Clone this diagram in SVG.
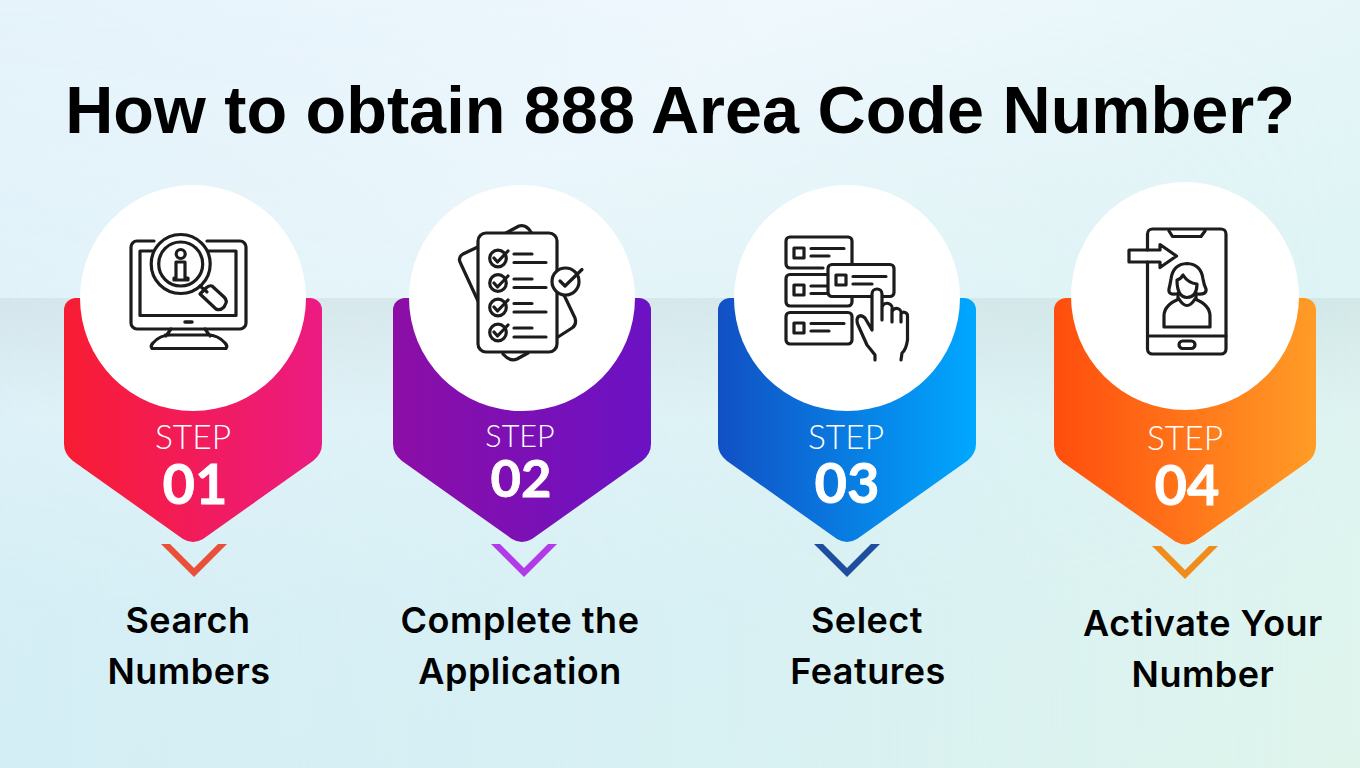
<svg xmlns="http://www.w3.org/2000/svg" width="1360" height="768" viewBox="0 0 1360 768">
<defs>
<linearGradient id="bg" x1="0" y1="0" x2="1" y2="1"><stop offset="0" stop-color="#e6f3fb"/><stop offset=".3" stop-color="#eff8fd"/><stop offset=".65" stop-color="#dff4f5"/><stop offset="1" stop-color="#dff5ec"/></linearGradient>
<linearGradient id="bg2" x1="0" y1="0" x2="1" y2="0"><stop offset="0" stop-color="#cfecf4" stop-opacity=".8"/><stop offset=".7" stop-color="#cfecf2" stop-opacity=".3"/><stop offset="1" stop-color="#cfecf2" stop-opacity="0"/></linearGradient>
<linearGradient id="bgm" x1="0" y1="0" x2="0" y2="1"><stop offset="0" stop-color="#000"/><stop offset=".8" stop-color="#fff"/></linearGradient>
<mask id="mk"><rect width="1360" height="768" fill="url(#bgm)"/></mask>
<linearGradient id="band" x1="0" y1="0" x2="0" y2="1"><stop offset="0" stop-color="#94a8a6" stop-opacity=".16"/><stop offset="1" stop-color="#94a8a6" stop-opacity="0"/></linearGradient>
<linearGradient id="g1"><stop offset="0" stop-color="#f81c32"/><stop offset="1" stop-color="#ec1b82"/></linearGradient>
<linearGradient id="g2"><stop offset="0" stop-color="#8c0ea6"/><stop offset="1" stop-color="#6b12c4"/></linearGradient>
<linearGradient id="g3"><stop offset="0" stop-color="#1150c4"/><stop offset="1" stop-color="#00a8ff"/></linearGradient>
<linearGradient id="g4"><stop offset="0" stop-color="#ff4d0d"/><stop offset="1" stop-color="#ff9c26"/></linearGradient>
<path id="pent" d="M0 12a12 12 0 0 1 12-12H246a12 12 0 0 1 12 12V146q0 10-9 17L139 241q-10 6-20 0L9 163q-9-7-9-17Z"/>
<path id="chev" d="M0 0H9L33 24L57 0H66L33 33Z"/>
</defs>
<style>
.ic{fill:none;stroke:#1c1c1c;stroke-width:3.200;stroke-linecap:round;stroke-linejoin:round}
.w{fill:#fff}
.title{font:700 66.600px "Liberation Sans",Arial,sans-serif;fill:#000}
.step{font:300 33.500px Lato,"Open Sans",sans-serif;fill:#fff;text-anchor:middle}
.num{font:700 56px Lato,"Open Sans",sans-serif;fill:#fff;text-anchor:middle;stroke:#fff;stroke-width:.8}
.lab{font:600 36px Inter,"Noto Sans",sans-serif;fill:#000;text-anchor:middle;letter-spacing:.5px}
</style>
<rect width="1360" height="768" fill="url(#bg)"/>
<rect width="1360" height="768" fill="url(#bg2)" mask="url(#mk)"/>
<rect y="298" width="1360" height="120" fill="url(#band)"/>
<text x="680" y="133" class="title" text-anchor="middle">How to obtain 888 Area Code Number?</text>

<g id="step1">
<use href="#pent" x="64" y="298" fill="url(#g1)"/>
<circle cx="193" cy="298" r="113" class="w"/>
<g class="ic">
<path d="M154 241H137a6 6 0 0 0-6 6V323a6 6 0 0 0 6 6H240a6 6 0 0 0 6-6V247a6 6 0 0 0-6-6H207"/>
<path d="M153 251H140V315.500H236V251H208"/>
<circle cx="180.700" cy="264" r="29.500" fill="#fff"/>
<circle cx="180.700" cy="264" r="22"/>
<circle cx="180.700" cy="254" r="4.500"/>
<path d="M176 262H185V278H188V280H174V278H176Z"/>
<path d="M200 286L207 292M206 288L200 294L216 309Q220 311 224 307L225 305Q228 301 224 297L212 286Q209 285 206 288Z"/>
<path d="M185 322H192" stroke-width="3.500"/>
<path d="M171 329L166 336M205 329L210 336M165 335H211M152 348.500H226Q228 346 225 343Q218 335 208 335H170Q160 335 153 343Q150 346 152 348.500Z"/>
</g>
</g>

<g id="step2">
<use href="#pent" x="393" y="298" fill="url(#g2)"/>
<circle cx="522" cy="298" r="113" class="w"/>
<g class="ic">
<path d="M478 301L460 262Q458 257 463 254L503 235M506 233L519 226Q526 224 531 232M564 295L575 318Q577 325 572 328L558 337M528 353L517 359Q510 362 503 354"/>
<rect x="478" y="233" width="79" height="119" rx="8" fill="#fff"/>
<g><circle cx="498" cy="258.500" r="8.300"/><path d="M494 258L497.500 262L508 251M514 254H532M514 262.500H546"/></g>
<g><circle cx="498" cy="283" r="8.300"/><path d="M494 283L497.500 287L508 276M514 279H532M514 287.500H546"/></g>
<g><circle cx="498" cy="307.500" r="8.300"/><path d="M494 307L497.500 311L508 300M514 303.500H532M514 312H546"/></g>
<g><circle cx="498" cy="332.500" r="8.300"/><path d="M494 332L497.500 336L508 325M514 328H532M514 337H546"/></g>
<circle cx="565.500" cy="281.500" r="13.500" fill="#fff"/>
<path d="M560 281L565 286L582 269.500"/>
</g>
</g>

<g id="step3">
<use href="#pent" x="718" y="298" fill="url(#g3)"/>
<circle cx="847" cy="298" r="113" class="w"/>
<g class="ic">
<path d="M823 268H790a4 4 0 0 1-4-4V241a4 4 0 0 1 4-4H848a4 4 0 0 1 4 4V263"/>
<rect x="794" y="248" width="10" height="10"/><path d="M811 248.500H844M811 256H829"/>
<path d="M828 274.500H790a4 4 0 0 0-4 4V302a4 4 0 0 0 4 4H848a4 4 0 0 0 4-4V297"/>
<rect x="794" y="285" width="10" height="10"/><path d="M811 286H828M811 293.500H828"/>
<rect x="786" y="312.500" width="66" height="31.500" rx="4"/>
<rect x="794" y="323" width="10" height="10"/><path d="M811 323.500H844M811 331H829"/>
<rect x="828" y="264.500" width="66" height="32" rx="4" fill="#fff"/>
<rect x="836" y="275" width="10" height="10"/><path d="M853 276.500H886M853 284H872"/>
<path d="M872 330V294a5 5 0 0 1 10 0V320M882 307a5 5 0 0 1 10 3V322M892 312a4.500 4.500 0 0 1 9 2V322M901 314a3.500 3.500 0 0 1 6.500 2V340Q906 350 902 353L901 360M872 330L865 318Q861 314 858 317Q856 320 858 325L867 345Q872 351 875 355L875 360" fill="#fff"/>
</g>
</g>

<g id="step4">
<use href="#pent" x="1054" y="298" fill="url(#g4)" transform="translate(1054 0) scale(1.0155 1.01) translate(-1054 -3)"/>
<circle cx="1185" cy="296" r="114" class="w"/>
<g class="ic">
<path d="M1147.500 250V234a5 5 0 0 1 5-5H1221a5 5 0 0 1 5 5V349a5 5 0 0 1-5 5H1152.500a5 5 0 0 1-5-5V262"/>
<path d="M1169 231L1172.500 236.500H1201L1205 231M1148 336H1226"/>
<rect x="1179" y="341" width="16" height="7.500" rx="3.700"/>
<path d="M1129 250H1160V244.500L1176.500 256L1160 267.500V262H1129Z"/>
<path d="M1164 327V316Q1164 305 1179 299Q1187 312 1195 299Q1210 305 1210 316V327Z"/>
<path d="M1178 299V293M1196 293V299"/>
<path d="M1176 294Q1168 295 1169 289Q1170 285 1171 279Q1173 264 1187 263.500Q1201 264 1203 279Q1204 285 1206 289Q1207 295 1197 294"/>
<path d="M1177 280Q1177 297 1187 297.500Q1197 297 1197 284Q1188 283 1183 275Q1181 279 1177 280Z"/>
</g>
</g>

<g id="labels1">
<text x="193" y="449" class="step">STEP</text><text x="195" y="504" class="num">01</text>
<text x="188" y="633" class="lab">Search</text><text x="189" y="684" class="lab">Numbers</text>
</g>
<g id="labels2">
<text x="520" y="447" class="step" style="font-size:30.500px">STEP</text><text x="521" y="497" class="num" style="font-size:52.500px">02</text>
<text x="520" y="633" class="lab">Complete the</text><text x="520" y="684" class="lab">Application</text>
</g>
<g id="labels3">
<text x="846" y="449" class="step">STEP</text><text x="847" y="503" class="num">03</text>
<text x="867" y="633" class="lab">Select</text><text x="868" y="684" class="lab">Features</text>
</g>
<g id="labels4">
<text x="1185" y="450" class="step">STEP</text><text x="1187" y="505" class="num">04</text>
<text x="1203" y="636" class="lab">Activate Your</text><text x="1203" y="687" class="lab">Number</text>
</g>
<g id="connectors">
<use href="#chev" x="161" y="544" fill="#e8503a"/>
<use href="#chev" x="491" y="544" fill="#b13be6"/>
<use href="#chev" x="814" y="544" fill="#1f4e9e"/>
<use href="#chev" x="1152" y="546" fill="#f08c1c"/>
</g>
</svg>
